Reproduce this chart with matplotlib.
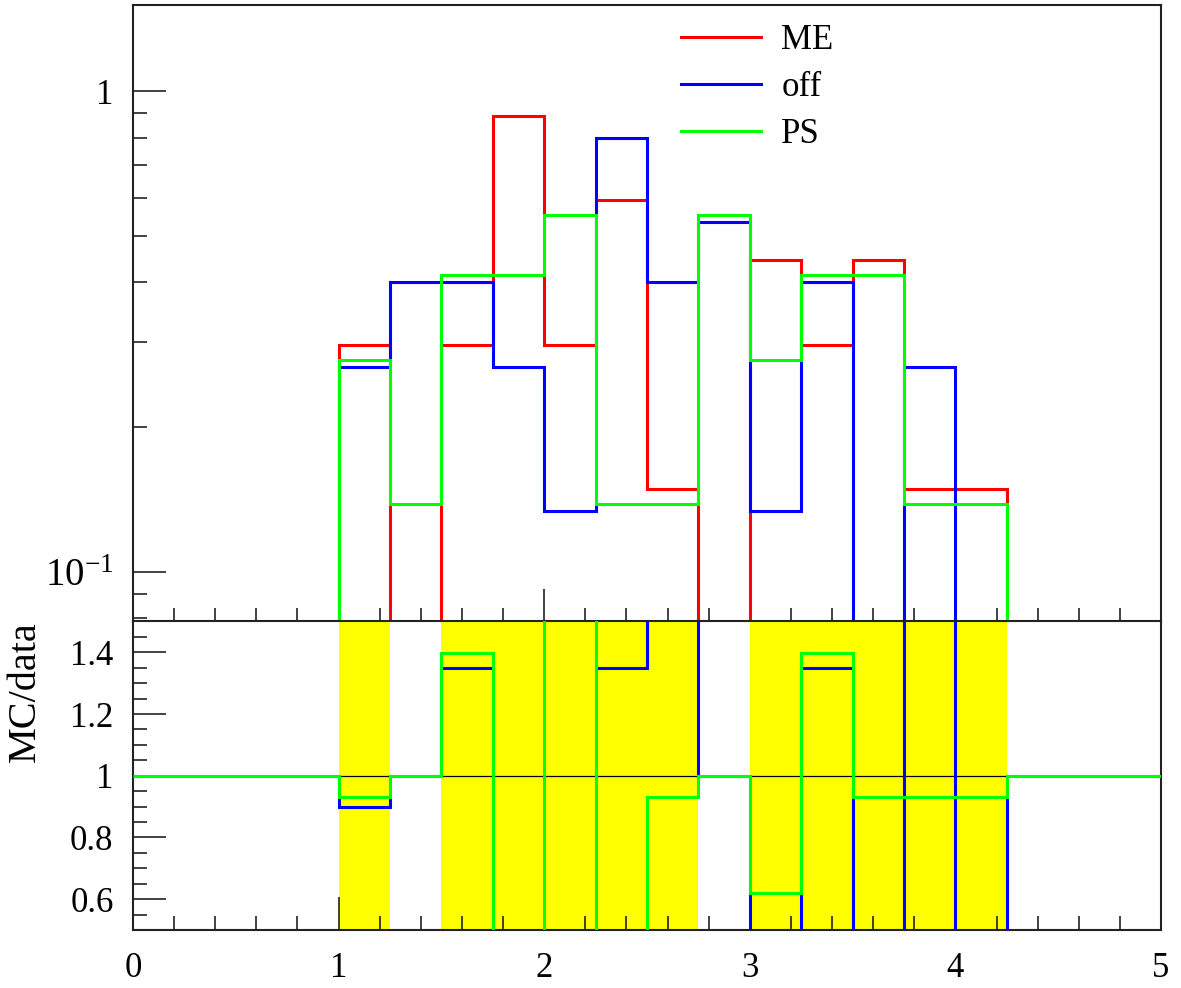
import numpy as np
import matplotlib
matplotlib.use("Agg")
import matplotlib.pyplot as plt
from matplotlib.ticker import FixedLocator, FixedFormatter, MultipleLocator, NullFormatter

# ---------------- data ----------------
bin_edges = np.linspace(0.0, 5.0, 21)          # 20 bins of width 0.25
# event counts per bin (normalised to unit area below)
me_counts  = [0, 0, 0, 0, 2, 0, 2, 6, 2, 4, 1, 0, 3, 2, 3, 1, 1, 0, 0, 0]
off_counts = [0, 0, 0, 0, 2, 3, 3, 2, 1, 6, 3, 4, 1, 3, 0, 2, 0, 0, 0, 0]
ps_counts  = [0, 0, 0, 0, 2, 1, 3, 3, 4, 1, 1, 4, 2, 3, 3, 1, 1, 0, 0, 0]
# relative uncertainty band on the reference (data) histogram
band_rel_err = [0, 0, 0, 0, 1, 0, 1, 1, 1, 1, 1, 0, 1, 1, 1, 1, 1, 0, 0, 0]

series_labels = ["ME", "off", "PS"]
series_colors = ["#ff0000", "#0000ff", "#00ff00"]

top_ylim = (0.0787, 1.51)
ratio_ylim = (0.5, 1.5)
x_major = [0, 1, 2, 3, 4, 5]
top_y_major = [0.1, 1.0]
top_y_major_labels = [r"$10^{-1}$", "1"]
ratio_y_major = [0.6, 0.8, 1.0, 1.2, 1.4]
ratio_y_labels = ["0.6", "0.8", "1", "1.2", "1.4"]

# ---------------- style ----------------
plt.rcParams["font.family"] = ["Liberation Serif", "DejaVu Serif"]
plt.rcParams["mathtext.fontset"] = "custom"
plt.rcParams["mathtext.rm"] = "Liberation Serif"
plt.rcParams["mathtext.it"] = "Liberation Serif:italic"
plt.rcParams["mathtext.bf"] = "Liberation Serif:bold"
FS = 25

W, H = 1181, 988
fig = plt.figure(figsize=(W / 100, H / 100), dpi=100)
x0, x1 = 133 / W, 1161 / W
ax = fig.add_axes([x0, 1 - 621.5 / H, x1 - x0, (621.5 - 5) / H])
axr = fig.add_axes([x0, 1 - 930 / H, x1 - x0, (930 - 621.5) / H])

edges = bin_edges
counts = [np.asarray(c, float) for c in (me_counts, off_counts, ps_counts)]
widths = np.diff(edges)
dens = [c / (c.sum() * widths) for c in counts]

LW = 2.2
# ---------------- top panel ----------------
ax.set_yscale("log", nonpositive="clip")
for d, col, lab in zip(dens, series_colors, series_labels):
    vals = np.where(d > 0, d, 1e-4)
    ax.stairs(vals, edges, color=col, lw=LW, label=lab, baseline=None,
              joinstyle="miter", zorder=3)
ax.set_xlim(0, 5)
ax.set_ylim(*top_ylim)
ax.yaxis.set_major_locator(FixedLocator(top_y_major))
ax.yaxis.set_major_formatter(FixedFormatter(top_y_major_labels))
minors = [0.08, 0.09] + [0.1 * k for k in range(2, 10)]
ax.yaxis.set_minor_locator(FixedLocator(minors))
ax.yaxis.set_minor_formatter(NullFormatter())
ax.xaxis.set_major_locator(FixedLocator(x_major))
ax.xaxis.set_minor_locator(MultipleLocator(0.2))
ax.tick_params(axis="x", labelbottom=False)

leg = ax.legend(loc="upper left", bbox_to_anchor=(0.526, 0.980), frameon=False,
                fontsize=FS, handlelength=2.3, handletextpad=0.6,
                labelspacing=0.40, borderaxespad=0.0, borderpad=0.2)

# ---------------- ratio panel ----------------
ref = dens[0]
rel = np.asarray(band_rel_err, float)
axr.stairs(1 + rel, edges, baseline=1 - rel, fill=True, color="#ffff00",
           lw=0, zorder=1)
axr.axhline(1.0, color="black", lw=0.9, zorder=2)
for d, col in zip(dens[1:], series_colors[1:]):
    ratio = np.where(ref > 0, d / np.where(ref > 0, ref, 1), 1.0)
    axr.stairs(ratio, edges, color=col, lw=LW, baseline=None,
               joinstyle="miter", zorder=3)
axr.set_xlim(0, 5)
axr.set_ylim(*ratio_ylim)
axr.yaxis.set_major_locator(FixedLocator(ratio_y_major))
axr.yaxis.set_major_formatter(FixedFormatter(ratio_y_labels))
axr.yaxis.set_minor_locator(MultipleLocator(0.05))
axr.xaxis.set_major_locator(FixedLocator(x_major))
axr.xaxis.set_major_formatter(FixedFormatter([str(v) for v in x_major]))
axr.xaxis.set_minor_locator(MultipleLocator(0.2))
axr.set_ylabel("MC/data", fontsize=29, loc="top")
axr.yaxis.set_label_coords(-0.087, 1.0)

for a in (ax, axr):
    a.tick_params(which="both", direction="in", top=False, right=False,
                  color="#222222", width=1.2, labelsize=FS)
    a.tick_params(which="major", length=24)
    a.tick_params(which="minor", length=10)
    a.tick_params(axis="y", which="major", pad=14)
    a.tick_params(axis="x", which="major", pad=16)
    for s in a.spines.values():
        s.set_linewidth(1.5)
        s.set_color("#222222")

# the 10^-1 label is drawn a bit larger in the reference
fig.canvas.draw()
ax.yaxis.get_major_ticks()[0].label1.set_fontsize(28)

fig.savefig("out.png", dpi=100)
